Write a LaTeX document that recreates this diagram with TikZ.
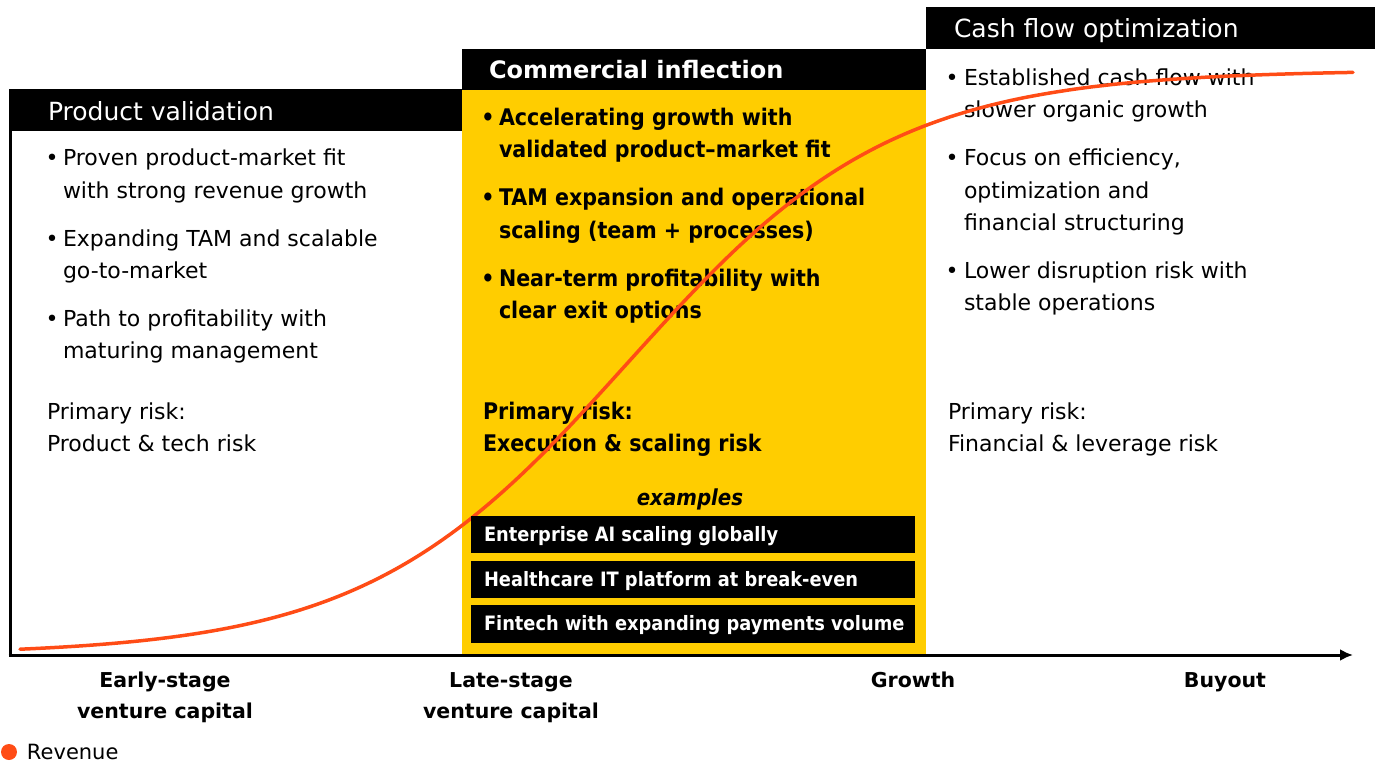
\documentclass[tikz,border=0pt]{standalone}
\usepackage{fontspec}
\setmainfont{DejaVu Sans}
\newfontfamily\cbold{DejaVu Sans}[FakeStretch=0.9]
\usetikzlibrary{arrows.meta}
\definecolor{ylw}{RGB}{255,205,0}
\definecolor{org}{RGB}{255,76,22}
\newcommand\fHdr{\fontsize{25}{30}\selectfont}
\newcommand\fHdrB{\bfseries\fontsize{24}{30}\selectfont}
\newcommand\fBody{\fontsize{22}{32}\selectfont}
\newcommand\fBodyB{\cbold\bfseries\fontsize{22.9}{32}\selectfont}
\newcommand\fEx{\cbold\bfseries\fontsize{19.8}{22}\selectfont}
\newcommand\fExTitle{\cbold\bfseries\itshape\fontsize{22}{24}\selectfont}
\newcommand\fAxis{\bfseries\fontsize{20.5}{24}\selectfont}
\newcommand\fLeg{\fontsize{21}{24}\selectfont}
\begin{document}
\begin{tikzpicture}[x=1pt,y=-1pt,
  every node/.style={inner sep=0pt, outer sep=0pt},
  txt/.style={anchor=base west, font=\fBody},
  txtb/.style={anchor=base west, font=\fBodyB},
  bul/.style={anchor=base, font=\fBody},
  bulb/.style={anchor=base, font=\fBodyB},
  hdrbox/.style={fill=black, anchor=north west},
  hdrtxt/.style={anchor=base west, text=white},
  exbox/.style={fill=black, anchor=north west, minimum width=444pt, minimum height=37pt},
  extxt/.style={anchor=base west, text=white, font=\fEx},
  axlbl/.style={anchor=base, font=\fAxis},
  axisline/.style={line width=3pt},
  revcurve/.style={draw=org, line width=3.5pt, line cap=round, line join=round},
]
\useasboundingbox (0,0) rectangle (1377,765);
% yellow column
\fill[ylw] (462,90) rectangle (926,655);
% headers
\node[hdrbox, minimum width=453pt, minimum height=42pt] (hL) at (9,89) {};
\node[hdrbox, minimum width=464pt, minimum height=41pt] (hC) at (462,49) {};
\node[hdrbox, minimum width=449pt, minimum height=42pt] (hR) at (926,7) {};
\node[hdrtxt, font=\fHdr] (hLt) at (48,121) {Product validation};
\node[hdrtxt, font=\fHdrB] (hCt) at (489,79) {Commercial inflection};
\node[hdrtxt, font=\fHdr] (hRt) at (954,38) {Cash flow optimization};
% left frame line and axis
\coordinate (vtop) at (10,131);
\coordinate (vbot) at (10,656);
\draw[axisline] (vtop) -- (vbot);
\coordinate (o) at (8.5,655);
\coordinate (xend) at (1353,655);
\draw[axisline, -{Latex[length=13pt,width=12pt]}] (o) -- (xend);
% left column
\node[bul] (lb1) at (52,166) {•};
\node[txt] (l1a) at (63,166) {Proven product-market fit};
\node[txt] (l1b) at (63,198) {with strong revenue growth};
\node[bul] (lb2) at (52,246) {•};
\node[txt] (l2a) at (63,246) {Expanding TAM and scalable};
\node[txt] (l2b) at (63,278) {go-to-market};
\node[bul] (lb3) at (52,326) {•};
\node[txt] (l3a) at (63,326) {Path to profitability with};
\node[txt] (l3b) at (63,358) {maturing management};
\node[txt] (lr1) at (47,419) {Primary risk:};
\node[txt] (lr2) at (47,451) {Product \& tech risk};
% center column
\node[bulb] (cb1) at (488,126) {•};
\node[txtb] (c1a) at (499,126) {Accelerating growth with};
\node[txtb] (c1b) at (499,158) {validated product–market fit};
\node[bulb] (cb2) at (488,206) {•};
\node[txtb] (c2a) at (499,206) {TAM expansion and operational};
\node[txtb] (c2b) at (499,238) {scaling (team + processes)};
\node[bulb] (cb3) at (488,286) {•};
\node[txtb] (c3a) at (499,286) {Near-term profitability with};
\node[txtb] (c3b) at (499,318) {clear exit options};
\node[txtb] (cr1) at (483,419) {Primary risk:};
\node[txtb] (cr2) at (483,451) {Execution \& scaling risk};
\node[anchor=base, font=\fExTitle] (exttl) at (690,505) {examples};
% right column
\node[bul] (rb1) at (952,86) {•};
\node[txt] (r1a) at (964,86) {Established cash flow with};
\node[txt] (r1b) at (964,118) {slower organic growth};
\node[bul] (rb2) at (952,166) {•};
\node[txt] (r2a) at (964,166) {Focus on efficiency,};
\node[txt] (r2b) at (964,198) {optimization and};
\node[txt] (r2c) at (964,230) {financial structuring};
\node[bul] (rb3) at (952,278) {•};
\node[txt] (r3a) at (964,278) {Lower disruption risk with};
\node[txt] (r3b) at (964,310) {stable operations};
\node[txt] (rr1) at (948,419) {Primary risk:};
\node[txt] (rr2) at (948,451) {Financial \& leverage risk};
% revenue curve
\draw[revcurve] plot[domain=20:1353, samples=200, smooth]
  (\x, {655-585/(1+exp(-(\x-628)/132))});
% example boxes
\node[exbox] (ex1) at (471,516) {};
\node[exbox] (ex2) at (471,561) {};
\node[exbox, minimum height=38pt] (ex3) at (471,605) {};
\node[extxt] (ex1t) at (484,541) {Enterprise AI scaling globally};
\node[extxt] (ex2t) at (484,586) {Healthcare IT platform at break-even};
\node[extxt] (ex3t) at (484,630) {Fintech with expanding payments volume};
% axis labels
\node[axlbl] (ax1a) at (165,687) {Early-stage};
\node[axlbl] (ax1b) at (165,718) {venture capital};
\node[axlbl] (ax2a) at (511,687) {Late-stage};
\node[axlbl] (ax2b) at (511,718) {venture capital};
\node[axlbl] (ax3) at (913,687) {Growth};
\node[axlbl] (ax4) at (1225,687) {Buyout};
% legend
\node[circle, fill=org, minimum size=16pt] (legdot) at (9,752) {};
\node[anchor=base west, font=\fLeg] (legtxt) at (27,759) {Revenue};
\end{tikzpicture}
\end{document}
